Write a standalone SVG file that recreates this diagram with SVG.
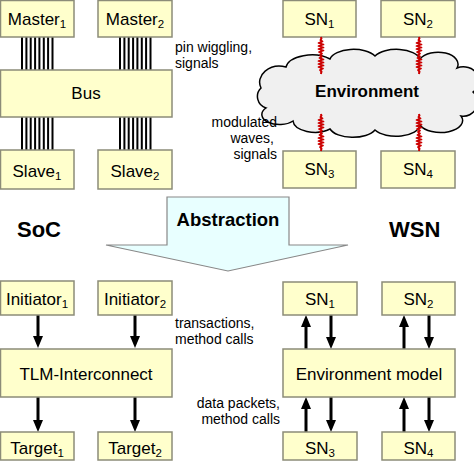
<svg xmlns="http://www.w3.org/2000/svg" xmlns:xlink="http://www.w3.org/1999/xlink" width="474" height="469" viewBox="0 0 474 469">
<style>
.box{fill:#ffffcc;stroke:#8c8c78;stroke-width:1.5}
.t{font-family:"Liberation Sans",Arial,sans-serif;font-size:17px;fill:#000}
.lbl{font-family:"Liberation Sans",Arial,sans-serif;font-size:14px;fill:#000}
.b{font-family:"Liberation Sans",Arial,sans-serif;font-weight:bold;fill:#000}
.sub{font-size:11.5px}
.wire{stroke:#000;stroke-width:2}
.wave{fill:none;stroke:#cc0000;stroke-width:1.8;stroke-linejoin:round}
.conn{stroke:#000;stroke-width:3;fill:none;marker-end:url(#ah)}
</style>
<defs>
<marker id="ah" viewBox="0 0 12 10" refX="0" refY="5" markerWidth="12" markerHeight="10" markerUnits="userSpaceOnUse" orient="auto">
<path d="M0,0 L12,5 L0,10 z" fill="#000"/>
</marker>
<path id="wires" class="wire" d="M1,0V33M5.4,0V33M9.7,0V33M14.1,0V33M18.4,0V33M22.8,0V33M27.1,0V33M31.5,0V33"/>
<g id="wv">
<path class="wave" d="M0,0 L0.6,1.5 L-0.6,3 L1.5,4.5 L-2.5,6 L2.5,7.5 L-2.5,9 L2.5,10.5 L-2.5,12 L2.5,13.5 L-2,15 L1,16.5 L-1,18 L1,19.5 L-1.5,21 L2.5,22.5 L-2.5,24 L2.5,25.5 L-2.5,27 L2.5,28.5 L-2.5,30 L2,31.5 L-1,33 L0.6,34.5 L0,37"/>
<path d="M0,0V37" stroke="#cc0000" stroke-width="1.2"/>
</g>
</defs>

<!-- SoC top -->
<g id="connectors-top">
<use xlink:href="#wires" x="21" y="37"/>
<use xlink:href="#wires" x="119" y="37"/>
<use xlink:href="#wires" x="21" y="117"/>
<use xlink:href="#wires" x="119" y="117"/>
</g>
<g id="master1"><rect class="box" x="0.5" y="0.5" width="73.5" height="36.5"/><text class="t" x="37" y="25" text-anchor="middle">Master<tspan class="sub" dy="3">1</tspan></text></g>
<g id="master2"><rect class="box" x="98" y="0.5" width="74" height="36.5"/><text class="t" x="135" y="25" text-anchor="middle">Master<tspan class="sub" dy="3">2</tspan></text></g>
<g id="bus"><rect class="box" x="0.5" y="70" width="171.5" height="47"/><text class="t" x="86" y="99" text-anchor="middle">Bus</text></g>
<g id="slave1"><rect class="box" x="0.5" y="150" width="73.5" height="39"/><text class="t" x="37" y="177" text-anchor="middle">Slave<tspan class="sub" dy="3">1</tspan></text></g>
<g id="slave2"><rect class="box" x="98" y="150" width="74" height="39"/><text class="t" x="135" y="177" text-anchor="middle">Slave<tspan class="sub" dy="3">2</tspan></text></g>
<text class="lbl" x="175" y="52">pin wiggling,</text>
<text class="lbl" x="175" y="68">signals</text>

<!-- WSN top -->
<g id="environment">
<path d="M266,108 A12,12 0 0 1 261,88 A20,16 0 0 1 286,67 A26,14 0 0 1 330,59 A24,12 0 0 1 375,56 A24,12 0 0 1 420,59 A20,12 0 0 1 457,68 A16,14 0 0 1 473,92 A14,14 0 0 1 461,116 A22,12 0 0 1 420,125 A24,12 0 0 1 375,130 A24,12 0 0 1 330,129 A22,12 0 0 1 293,121 A14,8 0 0 1 266,108 z" fill="#f0f0f0" stroke="#000" stroke-width="1.5"/>
<text class="b" x="367" y="97" font-size="17" text-anchor="middle">Environment</text>
</g>
<g id="sn1"><rect class="box" x="283" y="0.5" width="73" height="36.5"/><text class="t" x="319.5" y="25" text-anchor="middle">SN<tspan class="sub" dy="3">1</tspan></text></g>
<g id="sn2"><rect class="box" x="381" y="0.5" width="74" height="36.5"/><text class="t" x="418" y="25" text-anchor="middle">SN<tspan class="sub" dy="3">2</tspan></text></g>
<g id="sn3"><rect class="box" x="283" y="151" width="73" height="37"/><text class="t" x="319.5" y="175" text-anchor="middle">SN<tspan class="sub" dy="3">3</tspan></text></g>
<g id="sn4"><rect class="box" x="381" y="151" width="74" height="37"/><text class="t" x="418" y="175" text-anchor="middle">SN<tspan class="sub" dy="3">4</tspan></text></g>
<g id="waves">
<use xlink:href="#wv" x="321" y="37"/>
<use xlink:href="#wv" x="419" y="37"/>
<use xlink:href="#wv" x="321" y="114"/>
<use xlink:href="#wv" x="419" y="114"/>
</g>
<text class="lbl" x="277" y="127" text-anchor="end">modulated</text>
<text class="lbl" x="274" y="143" text-anchor="end">waves,</text>
<text class="lbl" x="277" y="159" text-anchor="end">signals</text>

<!-- Abstraction -->
<g id="abstraction">
<polygon points="167,197 289,197 289,245 348,245 228,271 106,245 167,245" fill="#e8ffff" stroke="#888" stroke-width="1.2"/>
<text class="b" x="228" y="226" font-size="18.5" text-anchor="middle">Abstraction</text>
</g>
<text class="b" x="17" y="237" font-size="22">SoC</text>
<text class="b" x="389" y="237" font-size="22">WSN</text>

<!-- Lower -->
<g id="connectors">
<path class="conn" d="M38,315V336"/>
<path class="conn" d="M135,315V336"/>
<path class="conn" d="M38,397V420"/>
<path class="conn" d="M135,397V420"/>
<path class="conn" d="M306,349V327"/>
<path class="conn" d="M331,315V337"/>
<path class="conn" d="M404,349V327"/>
<path class="conn" d="M429,315V337"/>
<path class="conn" d="M306,432V409"/>
<path class="conn" d="M331,397V420"/>
<path class="conn" d="M404,432V409"/>
<path class="conn" d="M429,397V420"/>
</g>
<g id="initiator1"><rect class="box" x="0.5" y="281" width="73.5" height="34"/><text class="t" x="37" y="305" text-anchor="middle">Initiator<tspan class="sub" dy="3">1</tspan></text></g>
<g id="initiator2"><rect class="box" x="98" y="281" width="74" height="34"/><text class="t" x="135" y="305" text-anchor="middle">Initiator<tspan class="sub" dy="3">2</tspan></text></g>
<g id="tlm"><rect class="box" x="0.5" y="349" width="171.5" height="48"/><text class="t" x="86" y="380" text-anchor="middle">TLM-Interconnect</text></g>
<g id="target1"><rect class="box" x="0.5" y="432" width="73.5" height="28"/><text class="t" x="37" y="454" text-anchor="middle">Target<tspan class="sub" dy="3">1</tspan></text></g>
<g id="target2"><rect class="box" x="98" y="432" width="74" height="28"/><text class="t" x="135" y="454" text-anchor="middle">Target<tspan class="sub" dy="3">2</tspan></text></g>
<text class="lbl" x="175" y="328">transactions,</text>
<text class="lbl" x="175" y="344">method calls</text>

<g id="sn1b"><rect class="box" x="283" y="282" width="74" height="33"/><text class="t" x="320" y="305" text-anchor="middle">SN<tspan class="sub" dy="3">1</tspan></text></g>
<g id="sn2b"><rect class="box" x="382" y="282" width="73" height="33"/><text class="t" x="418.5" y="305" text-anchor="middle">SN<tspan class="sub" dy="3">2</tspan></text></g>
<g id="envmodel"><rect class="box" x="283" y="349" width="172" height="48"/><text class="t" x="369" y="380" text-anchor="middle">Environment model</text></g>
<g id="sn3b"><rect class="box" x="283" y="432" width="74" height="28"/><text class="t" x="320" y="454" text-anchor="middle">SN<tspan class="sub" dy="3">3</tspan></text></g>
<g id="sn4b"><rect class="box" x="382" y="432" width="73" height="28"/><text class="t" x="418.5" y="454" text-anchor="middle">SN<tspan class="sub" dy="3">4</tspan></text></g>
<text class="lbl" x="280" y="408" text-anchor="end">data packets,</text>
<text class="lbl" x="280" y="424" text-anchor="end">method calls</text>
</svg>
